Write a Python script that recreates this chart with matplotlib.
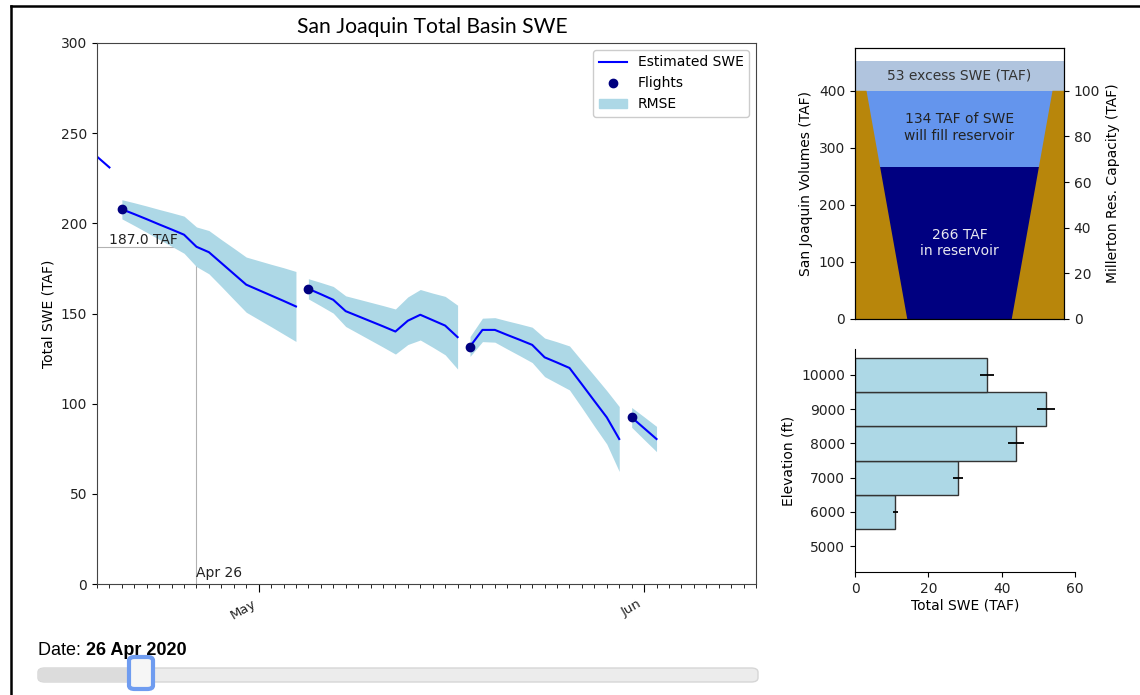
import matplotlib.pyplot as plt
import matplotlib.dates as mdates
import numpy as np
from matplotlib.patches import FancyBboxPatch, Polygon
from matplotlib.lines import Line2D

# estimated SWE runs, one per flight (daily values, TAF)
seg_starts = ['2020-04-18', '2020-04-20', '2020-05-05', '2020-05-18', '2020-05-31']
seg_swe = [
    [237, 231],
    [207.8, 205.1, 202.3, 199.4, 196.6, 193.7, 187.0, 184.0, 178.0, 172.0, 166.0,
     163.0, 160.0, 157.0, 153.9],
    [163.7, 160.7, 157.6, 151.3, 148.5, 145.7, 142.9, 140.0, 146.0, 149.3, 146.3,
     143.3, 136.9],
    [131.7, 140.9, 140.9, 138.1, 135.4, 132.6, 125.7, 122.8, 119.8, 110.7, 101.5,
     92.4, 80.4],
    [92.4, 86.4, 80.4],
]
seg_rmse = [
    None,
    [5.3, 6.3, 7.3, 8.3, 9.3, 10.3, 11.0, 12.0, 13.0, 14.2, 15.3, 16.3, 17.3, 18.4, 19.4],
    [5.6, 6.5, 7.4, 8.5, 9.5, 10.5, 11.5, 12.5, 13.2, 14.0, 15.0, 16.2, 17.7],
    [5.5, 6.5, 6.8, 7.8, 8.8, 9.8, 10.7, 11.5, 12.2, 13.0, 14.0, 14.8, 18.0],
    [5.5, 6.3, 7.0],
]
flight_dates = ['2020-04-20', '2020-05-05', '2020-05-18', '2020-05-31']
flight_swe = [207.8, 163.7, 131.7, 92.4]
sel_date = '2020-04-26'
sel_swe = 187.0

# reservoir panel (TAF)
in_reservoir = 266
will_fill = 134
excess = 53

# elevation bands
elev = [6000, 7000, 8000, 9000, 10000]
band_swe = [11, 28, 44, 52, 36]
band_err = [0.6, 1.4, 2.2, 2.5, 1.8]

W, H = 1140, 695


def px(l, t, r, b):
    return [l / W, 1 - b / H, (r - l) / W, (b - t) / H]


fig = plt.figure(figsize=(W / 100, H / 100), dpi=100)

# ---- main time series
ax = fig.add_axes(px(97, 43, 756, 584))
for start, swe, rmse in zip(seg_starts, seg_swe, seg_rmse):
    d = np.datetime64(start) + np.arange(len(swe))
    swe = np.array(swe)
    if rmse is not None:
        rmse = np.array(rmse)
        ax.fill_between(d, swe - rmse, swe + rmse, color='lightblue', lw=0, zorder=1)
    ax.plot(d, swe, color='blue', lw=1.5, zorder=2)
ax.plot(np.array(flight_dates, dtype='datetime64[D]'), flight_swe, 'o',
        color='navy', ms=6, zorder=3)

x_sel = np.datetime64(sel_date)
x0 = np.datetime64('2020-04-18')
x1 = np.datetime64('2020-06-10')
ax.plot([x0, x_sel], [sel_swe, sel_swe], color='gray', lw=0.8, alpha=0.6, zorder=0)
ax.plot([x_sel, x_sel], [0, sel_swe], color='gray', lw=0.8, alpha=0.6, zorder=0)
ax.text(np.datetime64('2020-04-19'), sel_swe, f'{sel_swe:.1f} TAF', fontsize=10,
        va='bottom', color='#222')
ax.text(x_sel, 2, 'Apr 26', fontsize=10, va='bottom', color='#222')

ax.set_xlim(x0, x1)
ax.set_ylim(0, 300)
ax.set_ylabel('Total SWE (TAF)', fontsize=10)
ax.xaxis.set_major_locator(mdates.MonthLocator())
ax.xaxis.set_major_formatter(mdates.DateFormatter('%b'))
ax.xaxis.set_minor_locator(mdates.DayLocator())
ax.tick_params(axis='x', which='major', length=6, labelsize=9.5, labelcolor='#222')
ax.tick_params(axis='x', which='minor', length=3)
ax.tick_params(axis='y', labelsize=10, labelcolor='#222')
for lab in ax.get_xticklabels():
    lab.set_rotation(30)
    lab.set_ha('right')
for s in ax.spines.values():
    s.set_color('#444')

handles = [Line2D([], [], color='blue', lw=1.5),
           Line2D([], [], color='navy', marker='o', ls='', ms=6),
           plt.Rectangle((0, 0), 1, 1, color='lightblue')]
ax.legend(handles, ['Estimated SWE', 'Flights', 'RMSE'], loc='upper right',
          fontsize=10, framealpha=1, edgecolor='#ccc')

fig.text(432 / W, 1 - 27 / H, 'San Joaquin Total Basin SWE', family='Lato',
         fontsize=15.2, ha='center', va='center')

# ---- reservoir panel
ar = fig.add_axes(px(855, 48, 1064, 319))
full = in_reservoir + will_fill
ar.axhspan(0, in_reservoir, color='navy', lw=0)
ar.axhspan(in_reservoir, full, color='cornflowerblue', lw=0)
ar.axhspan(full, full + excess, color='lightsteelblue', lw=0)
ar.add_patch(Polygon([(0, 0), (0.25, 0), (0.055, full), (0, full)],
                     color='darkgoldenrod', lw=0))
ar.add_patch(Polygon([(1, 0), (0.75, 0), (0.945, full), (1, full)],
                     color='darkgoldenrod', lw=0))
ar.text(0.5, full + excess / 2, f'{excess} excess SWE (TAF)', ha='center',
        va='center', fontsize=10, color='#333')
ar.text(0.5, in_reservoir + will_fill * 0.52, f'{will_fill} TAF of SWE\nwill fill reservoir',
        ha='center', va='center', fontsize=10, color='#222', linespacing=1.25)
ar.text(0.5, in_reservoir / 2, f'{in_reservoir} TAF\nin reservoir', ha='center',
        va='center', fontsize=10, color='#e8e8f0', linespacing=1.25)
ar.set_xlim(0, 1)
ar.set_ylim(0, 475)
ar.set_xticks([])
ar.set_yticks([0, 100, 200, 300, 400])
ar.tick_params(labelsize=10, labelcolor='#222')
ar.set_ylabel('San Joaquin Volumes (TAF)', fontsize=10)
ar2 = ar.twinx()
ar2.set_ylim(0, 475 / 4)
ar2.set_yticks([0, 20, 40, 60, 80, 100])
ar2.tick_params(labelsize=10, labelcolor='#222')
ar2.set_ylabel('Millerton Res. Capacity (TAF)', fontsize=10)

# ---- elevation bands
ab = fig.add_axes(px(855, 349, 1075, 572))
ab.barh(elev, band_swe, height=1000, color='lightblue', edgecolor='#333', lw=1,
        xerr=band_err, error_kw=dict(ecolor='black', elinewidth=1.3, capsize=0))
ab.set_xlim(0, 60)
ab.set_ylim(4250, 10750)
ab.set_xticks([0, 20, 40, 60])
ab.set_yticks([5000, 6000, 7000, 8000, 9000, 10000])
ab.tick_params(labelsize=10, labelcolor='#222')
ab.set_xlabel('Total SWE (TAF)', fontsize=10, labelpad=2)
ab.set_ylabel('Elevation (ft)', fontsize=10)
ab.spines['top'].set_visible(False)
ab.spines['right'].set_visible(False)

# ---- date slider
t1 = fig.text(38 / W, 1 - 655 / H, 'Date: ', family='Liberation Sans', fontsize=13,
              va='baseline')
ax.annotate('26 Apr 2020', xy=(1, 0), xycoords=t1, va='bottom', ha='left',
            family='Liberation Sans', fontsize=13, weight='bold',
            annotation_clip=False)
l, b, w, h = px(38, 668, 758, 682)
fig.add_artist(FancyBboxPatch((l, b), w, h, boxstyle='round,pad=0,rounding_size=0.006',
                              transform=fig.transFigure, fc='#ececec', ec='#d6d6d6', lw=1))
l, b, w, h = px(38, 668, 141, 682)
fig.add_artist(FancyBboxPatch((l, b), w, h, boxstyle='round,pad=0,rounding_size=0.006',
                              transform=fig.transFigure, fc='#dcdcdc', ec='none'))
l, b, w, h = px(129, 657, 153, 689)
fig.add_artist(FancyBboxPatch((l, b), w, h, boxstyle='round,pad=0,rounding_size=0.005',
                              transform=fig.transFigure, fc='#f6f6f6', ec='#6f9cf0', lw=3))

# frame
fig.add_artist(Line2D([11 / W, 11 / W], [0, 1 - 6 / H], color='black', lw=1.8))
fig.add_artist(Line2D([11 / W, 1], [1 - 6 / H, 1 - 6 / H], color='black', lw=1.8))

fig.savefig('out.png', dpi=100)
